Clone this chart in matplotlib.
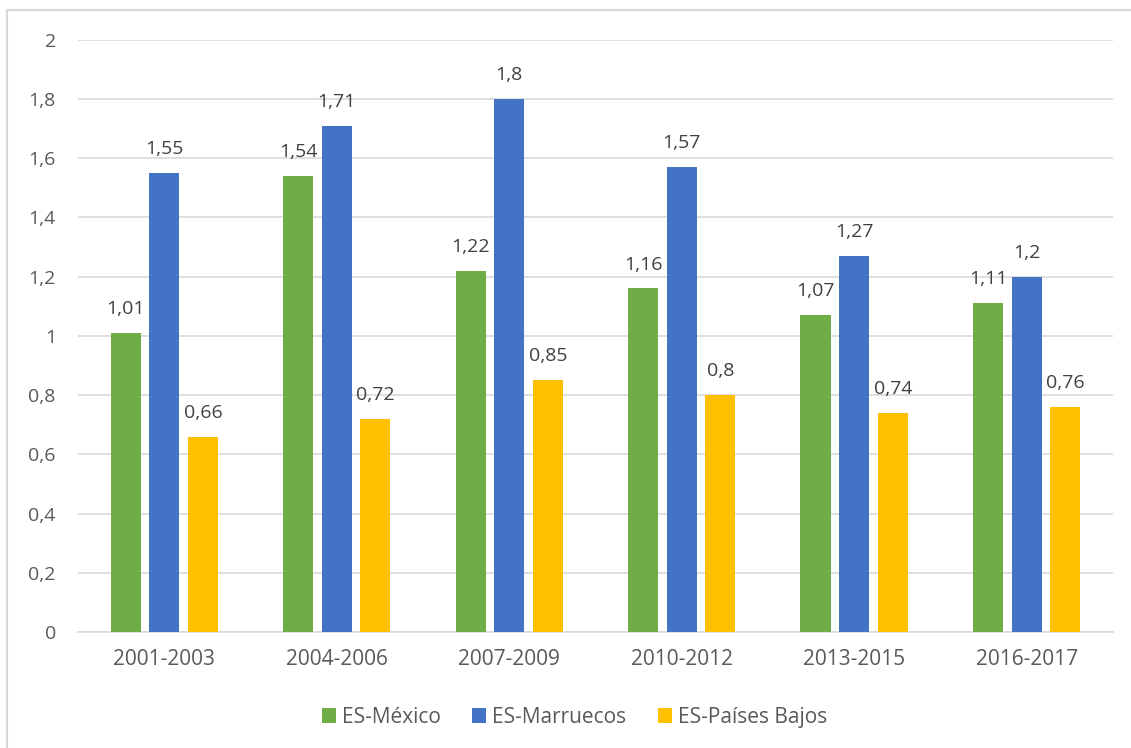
import matplotlib.pyplot as plt
import numpy as np

periodos = ["2001-2003", "2004-2006", "2007-2009", "2010-2012", "2013-2015", "2016-2017"]
mexico = [1.01, 1.54, 1.22, 1.16, 1.07, 1.11]
marruecos = [1.55, 1.71, 1.8, 1.57, 1.27, 1.2]
paises_bajos = [0.66, 0.72, 0.85, 0.8, 0.74, 0.76]

series = [("ES-México", mexico, "#70AD47"),
          ("ES-Marruecos", marruecos, "#4472C4"),
          ("ES-Países Bajos", paises_bajos, "#FFC000")]

plt.rcParams['font.family'] = ['Open Sans', 'DejaVu Sans']
txt = "#595959"

fig = plt.figure(figsize=(11.31, 7.48), dpi=100)
ax = fig.add_axes([0.069, 0.155, 0.915, 0.792])

x = np.arange(len(periodos))
w = 0.175
step = 0.224
for i, (name, vals, col) in enumerate(series):
    pos = x + (i - 1) * step
    ax.bar(pos, vals, width=w, color=col, label=name, zorder=3)
    for p, v in zip(pos, vals):
        ax.text(p, v + 0.05, f"{v:g}".replace(".", ","), ha="center", va="bottom",
                fontsize=14, color="#404040")

yt = np.arange(0, 2.01, 0.2)
ax.set_ylim(0, 2)
ax.set_xlim(-0.5, len(periodos) - 0.5)
ax.set_yticks(yt)
ax.set_yticklabels([f"{t:.1f}".rstrip("0").rstrip(".").replace(".", ",") for t in yt])
ax.set_xticks(x)
ax.set_xticklabels(periodos)
ax.tick_params(axis="both", length=0, colors=txt)
ax.tick_params(axis="y", pad=16, labelsize=14)
ax.tick_params(axis="x", pad=12, labelsize=15)
ax.grid(axis="y", color="#D9D9D9", linewidth=1.2, zorder=0)
for s in ["top", "right", "left"]:
    ax.spines[s].set_visible(False)
ax.spines["bottom"].set_color("#D9D9D9")
ax.spines["bottom"].set_linewidth(1.2)

leg = fig.legend(loc="center", bbox_to_anchor=(0.508, 0.041), ncol=3, frameon=False,
                 fontsize=15, handlelength=0.67, handleheight=0.67, columnspacing=1.5,
                 handletextpad=0.3)
for t in leg.get_texts():
    t.set_color(txt)

# chart border (only top and left edges show)
fig.add_artist(plt.Line2D([7 / 1131, 1], [1 - 10 / 748, 1 - 10 / 748], transform=fig.transFigure,
                          color="#D9D9D9", linewidth=1.5))
fig.add_artist(plt.Line2D([7 / 1131, 7 / 1131], [0, 1 - 10 / 748], transform=fig.transFigure,
                          color="#D9D9D9", linewidth=1.5))

fig.savefig("out.png", dpi=100)
